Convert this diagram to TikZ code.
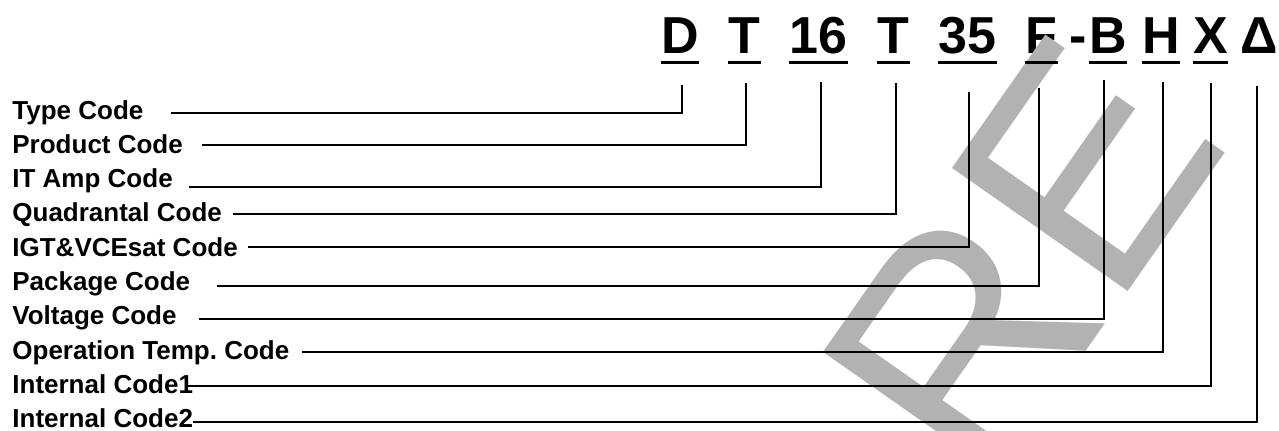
\documentclass[tikz,border=0pt]{standalone}
\usepackage{fontspec}
\setmainfont{Liberation Sans}
\usepackage{tikz}
\tikzset{%
  codechar/.style = {font=\fontsize{26}{30}\selectfont\bfseries,
    inner sep=0pt, anchor=base},
  desc/.style = {font=\fontsize{13}{15}\selectfont\bfseries,
    inner sep=0pt, anchor=base west},
  uline/.style = {line width=1.5pt},
  lead/.style = {draw, line width=0.7pt},
  stamp/.style = {font=\fontsize{156}{160}\selectfont, text=black!30,
    inner sep=0pt, anchor=base west, rotate=55}
}

\begin{document}
\begin{tikzpicture}[x=0.5pt, y=-0.5pt]
  \useasboundingbox (0,0) rectangle (1279,430);
  % part number
  \node[codechar] (cD)  at (680,53)    {D};
  \node[codechar] (cT)  at (744.5,53)  {T};
  \node[codechar] (c16) at (818.5,53)  {16};
  \node[codechar] (cQ)  at (893.5,53)  {T};
  \node[codechar] (c35) at (967.5,53)  {35};
  \node[codechar] (cF)  at (1041.5,53) {F};
  \node[codechar] (cB)  at (1108,53)   {B};
  \node[codechar, anchor=base east] (cdash) at ([xshift=-1pt]cB.base west) {-};
  \node[codechar] (cH)  at (1161,53)   {H};
  \node[codechar] (cX)  at (1210.5,53) {X};
  \node[codechar] (cI)  at (1259,53)   {Δ};
  % watermark
  \node[stamp] (mark) at (984,497) {RE};
  \foreach \c in {cD,cT,c16,cQ,c35,cF,cB,cH,cX}
    \draw[uline] ([yshift=-4.5pt]\c.base west) -- ([yshift=-4.5pt]\c.base east);
  % code descriptions
  \foreach \n/\txt/\sx/\sy/\vx/\vy [count=\i from 0] in {
      type/Type Code/171/113/682/85,
      prod/Product Code/202/145/746/83,
      amp/IT Amp Code/189/187/821/82,
      quad/Quadrantal Code/233/214/896/83,
      igt/IGT\&VCEsat Code/248/247/969/92,
      pack/Package Code/217/286/1039/88,
      volt/Voltage Code/199/319/1104/80,
      temp/Operation Temp.\ Code/302/352/1163/82,
      int1/Internal Code1/185/386/1211/83,
      int2/Internal Code2/193/422/1257/86}{
    \node[desc] (\n) at (12,{119+34.33*\i}) {\txt};
    \coordinate (\n-s) at (\sx,\sy);
    \coordinate (\n-e) at (\vx,\vy);
    \draw[lead] (\n-s) -| (\n-e);
  }
\end{tikzpicture}
\end{document}
